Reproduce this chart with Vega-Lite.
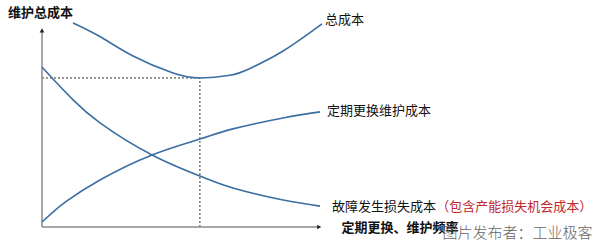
{
  "$schema": "https://vega.github.io/schema/vega-lite/v6.json",
  "width": 280,
  "height": 207,
  "autosize": "none",
  "padding": {"left": 42, "top": 20, "right": 278, "bottom": 19},
  "background": "white",
  "config": {
    "view": {"stroke": null},
    "text": {"font": "Noto Sans CJK SC"}
  },
  "datasets": {
    "curves": [
      {"series": "总成本", "freq": 1.11, "cost": 98.6},
      {"series": "总成本", "freq": 2.07, "cost": 92.0},
      {"series": "总成本", "freq": 3.25, "cost": 82.6},
      {"series": "总成本", "freq": 4.68, "cost": 74.4},
      {"series": "总成本", "freq": 5.64, "cost": 72.0},
      {"series": "总成本", "freq": 6.71, "cost": 73.3},
      {"series": "总成本", "freq": 7.43, "cost": 76.6},
      {"series": "总成本", "freq": 8.61, "cost": 85.0},
      {"series": "总成本", "freq": 10.0, "cost": 98.1},
      {"series": "定期更换维护成本", "freq": 0.0, "cost": 2.4},
      {"series": "定期更换维护成本", "freq": 0.4, "cost": 7.3},
      {"series": "定期更换维护成本", "freq": 0.89, "cost": 12.6},
      {"series": "定期更换维护成本", "freq": 2.07, "cost": 22.7},
      {"series": "定期更换维护成本", "freq": 3.93, "cost": 34.8},
      {"series": "定期更换维护成本", "freq": 5.64, "cost": 42.5},
      {"series": "定期更换维护成本", "freq": 6.82, "cost": 47.4},
      {"series": "定期更换维护成本", "freq": 8.61, "cost": 52.7},
      {"series": "定期更换维护成本", "freq": 9.93, "cost": 55.6},
      {"series": "故障发生损失成本", "freq": 0.0, "cost": 77.3},
      {"series": "故障发生损失成本", "freq": 0.46, "cost": 70.5},
      {"series": "故障发生损失成本", "freq": 1.11, "cost": 61.4},
      {"series": "故障发生损失成本", "freq": 2.07, "cost": 50.3},
      {"series": "故障发生损失成本", "freq": 3.93, "cost": 34.8},
      {"series": "故障发生损失成本", "freq": 5.64, "cost": 24.6},
      {"series": "故障发生损失成本", "freq": 6.82, "cost": 18.8},
      {"series": "故障发生损失成本", "freq": 8.61, "cost": 13.0},
      {"series": "故障发生损失成本", "freq": 9.93, "cost": 10.1}
    ],
    "optimum": [
      {"freq": 0.0, "cost": 72.0, "freq2": 5.64, "cost2": 72.0},
      {"freq": 5.64, "cost": 0.0, "freq2": 5.64, "cost2": 72.0}
    ],
    "axes": [
      {"freq": 0.0, "cost": 0.0, "freq2": 0.0, "cost2": 95.0},
      {"freq": 0.0, "cost": 0.0, "freq2": 9.85, "cost2": 0.0}
    ],
    "arrows": [
      {"freq": 0.0, "cost": 95.0, "dir": "up"},
      {"freq": 9.9, "cost": 0.0, "dir": "right"}
    ],
    "curveLabels": [
      {"freq": 10.11, "cost": 100.0, "label": "总成本"},
      {"freq": 10.18, "cost": 56.0, "label": "定期更换维护成本"},
      {"freq": 10.36, "cost": 9.7, "label": "故障发生损失成本"}
    ],
    "noteLabel": [
      {"freq": 14.08, "cost": 9.7, "label": "（包含产能损失机会成本）"}
    ],
    "axisTitles": [
      {"freq": -1.21, "cost": 103.4, "label": "维护总成本"},
      {"freq": 10.7, "cost": -0.6, "label": "定期更换、维护频率"}
    ],
    "credit": [
      {"freq": 14.3, "cost": -2.9, "label": "图片发布者：工业极客"}
    ]
  },
  "encoding": {
    "x": {"field": "freq", "type": "quantitative", "scale": {"domain": [0, 10], "nice": false, "zero": false}, "axis": null},
    "y": {"field": "cost", "type": "quantitative", "scale": {"domain": [0, 100], "nice": false, "zero": false}, "axis": null}
  },
  "layer": [
    {
      "data": {"name": "optimum"},
      "mark": {"type": "rule", "color": "#333333", "strokeWidth": 1, "strokeDash": [2, 2]},
      "encoding": {"x2": {"field": "freq2"}, "y2": {"field": "cost2"}}
    },
    {
      "data": {"name": "axes"},
      "mark": {"type": "rule", "color": "#8a8a8a", "strokeWidth": 1.5},
      "encoding": {"x2": {"field": "freq2"}, "y2": {"field": "cost2"}}
    },
    {
      "data": {"name": "arrows"},
      "transform": [{"filter": "datum.dir === 'up'"}],
      "mark": {"type": "point", "shape": "triangle-up", "filled": true, "color": "#222222", "size": 22, "opacity": 1}
    },
    {
      "data": {"name": "arrows"},
      "transform": [{"filter": "datum.dir === 'right'"}],
      "mark": {"type": "point", "shape": "triangle-right", "filled": true, "color": "#222222", "size": 22, "opacity": 1}
    },
    {
      "data": {"name": "curves"},
      "mark": {"type": "line", "interpolate": "natural", "color": "#3b6fa3", "strokeWidth": 1.6},
      "encoding": {"detail": {"field": "series"}}
    },
    {
      "data": {"name": "curveLabels"},
      "mark": {"type": "text", "align": "left", "baseline": "middle", "fontSize": 13, "color": "#111111"},
      "encoding": {"text": {"field": "label"}}
    },
    {
      "data": {"name": "noteLabel"},
      "mark": {"type": "text", "align": "left", "baseline": "middle", "fontSize": 13, "color": "#c0282d"},
      "encoding": {"text": {"field": "label"}}
    },
    {
      "data": {"name": "axisTitles"},
      "mark": {"type": "text", "align": "left", "baseline": "middle", "fontSize": 13, "fontWeight": "bold", "color": "#111111"},
      "encoding": {"text": {"field": "label"}}
    },
    {
      "data": {"name": "credit"},
      "mark": {"type": "text", "align": "left", "baseline": "middle", "fontSize": 15, "fontWeight": 300, "color": "#666666"},
      "encoding": {"text": {"field": "label"}}
    }
  ]
}
